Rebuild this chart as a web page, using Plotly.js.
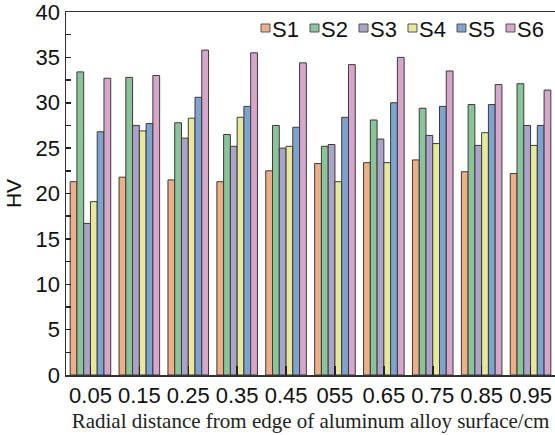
<!DOCTYPE html>
<html>
<head>
<meta charset="utf-8">
<script src="https://cdn.plot.ly/plotly-3.0.1.min.js"></script>
<style>html,body{margin:0;padding:0;background:#fff;}#chart{width:555px;height:435px;}</style>
</head>
<body>
<div id="chart"></div>
<script>
const categories = ["0.05","0.15","0.25","0.35","0.45","055","0.65","0.75","0.85","0.95"];
const seriesNames = ["S1","S2","S3","S4","S5","S6"];
const S1 = [21.3, 21.8, 21.5, 21.3, 22.5, 23.3, 23.4, 23.7, 22.4, 22.2];
const S2 = [33.4, 32.8, 27.8, 26.5, 27.5, 25.2, 28.1, 29.4, 29.8, 32.1];
const S3 = [16.7, 27.5, 26.1, 25.2, 25.0, 25.4, 26.0, 26.4, 25.3, 27.5];
const S4 = [19.1, 26.9, 28.3, 28.4, 25.2, 21.3, 23.4, 25.5, 26.7, 25.3];
const S5 = [26.8, 27.7, 30.6, 29.6, 27.3, 28.4, 30.0, 29.6, 29.8, 27.5];
const S6 = [32.7, 33.0, 35.8, 35.5, 34.4, 34.2, 35.0, 33.5, 32.0, 31.4];
const seriesValues = [S1, S2, S3, S4, S5, S6];
const colors = ["#EDAF88", "#8CC49A", "#ABA3CA", "#E8E89C", "#7EA3CF", "#D7A7CB"];

const W = 555, H = 435, ML = 66, MR = 0, MT = 12, MB = 60;
const pw = W - ML - MR, ph = H - MT - MB;
const px = x => (x - ML) / pw;
const py = y => (H - MB - y) / ph;

const traces = seriesNames.map((n, i) => ({
  type: 'bar',
  name: n,
  x: categories,
  y: seriesValues[i],
  marker: {color: colors[i], line: {color: '#3a3a3a', width: 1}},
  showlegend: false
}));

const shapes = [], annotations = [];
seriesNames.forEach((n, i) => {
  const x0 = 261 + 49 * i;
  shapes.push({type: 'rect', xref: 'paper', yref: 'paper',
    x0: px(x0), x1: px(x0 + 9), y0: py(32), y1: py(24),
    fillcolor: colors[i], line: {color: '#555', width: 1}});
  annotations.push({xref: 'paper', yref: 'paper', x: px(x0 + 9), y: py(29.5),
    xanchor: 'left', yanchor: 'middle', showarrow: false, text: n,
    font: {family: 'Arial', size: 22, color: '#111'}});
});

const layout = {
  width: W, height: H,
  margin: {l: ML, r: MR, t: MT, b: MB},
  paper_bgcolor: '#fff', plot_bgcolor: '#fff',
  barmode: 'group', bargap: 0.17, bargroupgap: 0,
  font: {family: 'Arial', size: 22, color: '#111'},
  xaxis: {
    type: 'category', range: [-0.5, 9.5],
    showline: true, linecolor: '#333', linewidth: 1.5, mirror: true,
    ticks: 'inside', ticklen: 9, tickcolor: '#222', tickwidth: 1.5,
    showgrid: false, zeroline: false,
    tickfont: {family: 'Arial', size: 22, color: '#111'},
    title: {text: 'Radial distance from edge of aluminum alloy surface/cm', standoff: 6,
      font: {family: 'Times New Roman', size: 21, color: '#222'}}
  },
  yaxis: {
    range: [0, 40], tickmode: 'array', tickvals: [0,5,10,15,20,25,30,35,40],
    showline: true, linecolor: '#333', linewidth: 1.5, mirror: false,
    ticks: 'inside', ticklen: 5, tickcolor: '#222', tickwidth: 1.5,
    ticklabeloverflow: 'allow',
    minor: {ticks: 'inside', ticklen: 5, dtick: 2.5, tick0: 0, tickcolor: '#222', tickwidth: 1.5},
    showgrid: false, zeroline: false,
    tickfont: {family: 'Arial', size: 22, color: '#111'},
    title: {text: 'HV', standoff: 8, font: {family: 'Arial', size: 21, color: '#111'}}
  },
  shapes: shapes,
  annotations: annotations
};

Plotly.newPlot('chart', traces, layout, {displayModeBar: false, staticPlot: true});
</script>
</body>
</html>
